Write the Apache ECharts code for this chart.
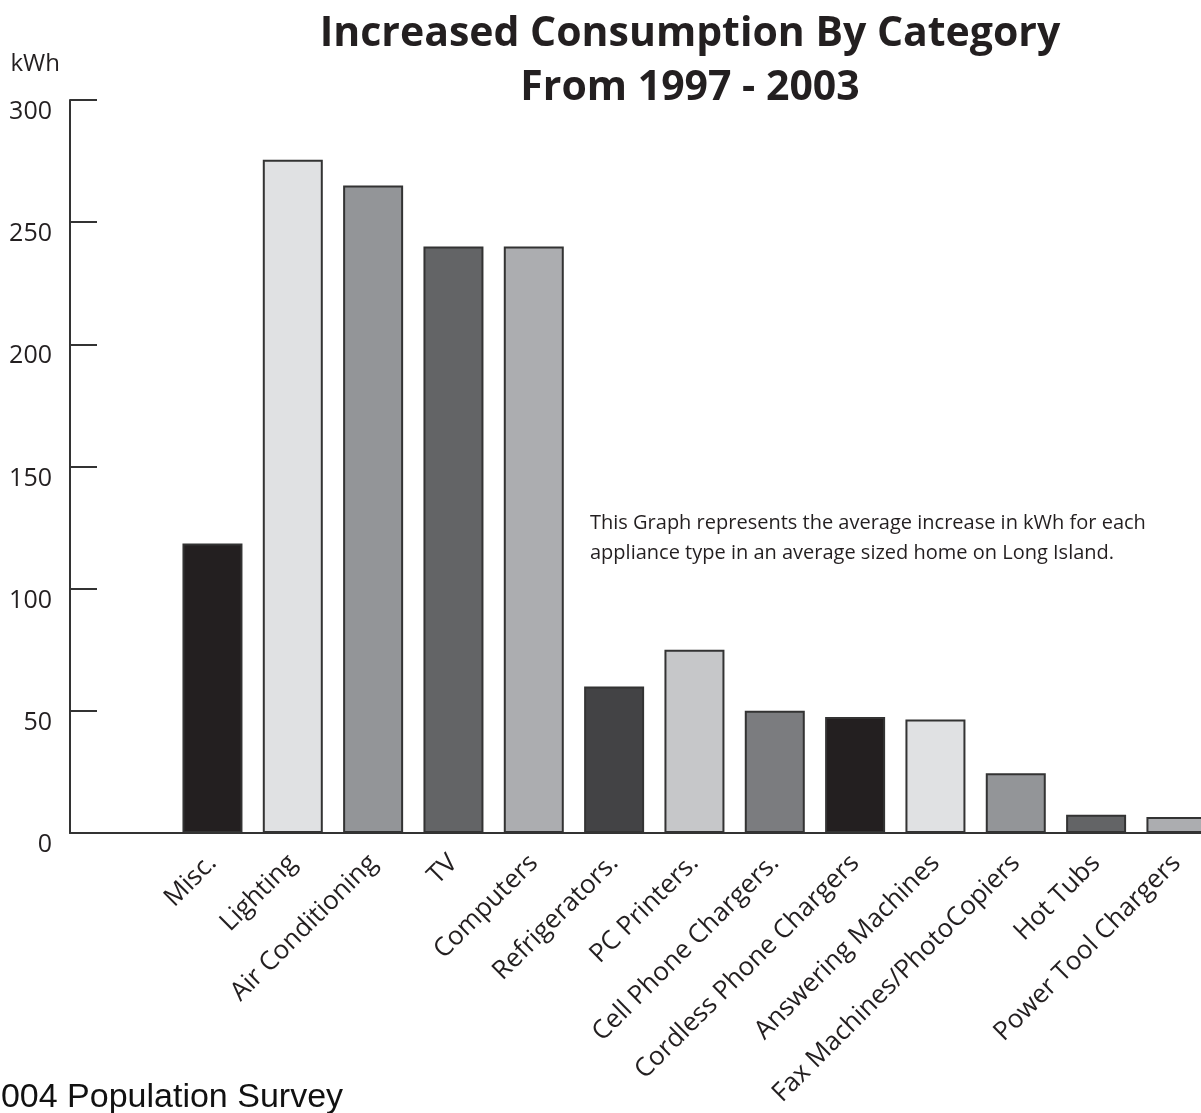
<!DOCTYPE html>
<html>
<head>
<meta charset="utf-8">
<title>Increased Consumption By Category</title>
<script src="https://cdn.jsdelivr.net/npm/echarts@6/dist/echarts.min.js"></script>
<style>
  html, body { margin: 0; padding: 0; background: #ffffff; }
  #chart { width: 1201px; height: 1113px; }
</style>
</head>
<body>
<div id="chart"></div>
<script>
// Appliance categories and their average increase in kWh, 1997 - 2003
const categories = [
  'Misc.', 'Lighting', 'Air Conditioning', 'TV', 'Computers', 'Refrigerators.',
  'PC Printers.', 'Cell Phone Chargers.', 'Cordless Phone Chargers',
  'Answering Machines', 'Fax Machines/PhotoCopiers', 'Hot Tubs', 'Power Tool Chargers'
];
const kwhIncrease = [118.5, 275.5, 265, 240, 240, 60, 75, 50, 47.5, 46.5, 24.5, 7.5, 6.5];
const barShades = [
  '#231f20', '#e0e1e3', '#939598', '#636466', '#acadb0', '#434345',
  '#c6c7c9', '#7b7c7f', '#231f20', '#e0e1e3', '#939598', '#636466', '#acadb0'
];
const yMin = 0, yMax = 300, yStep = 50;

const titleText = 'Increased Consumption By Category\nFrom 1997 - 2003';
const noteText = 'This Graph represents the average increase in kWh for each\nappliance type in an average sized home on Long Island.';
const sourceText = '2004 Population Survey';

const ink = '#333333';
const sansFont = '"Open Sans", "Noto Sans", sans-serif';

const chart = echarts.init(document.getElementById('chart'), null, { renderer: 'canvas' });

chart.setOption({
  animation: false,
  backgroundColor: '#ffffff',
  title: {
    text: titleText,
    left: 685,
    top: 2,
    textAlign: 'center',
    textStyle: {
      fontFamily: sansFont,
      fontWeight: 'bold',
      fontSize: 41,
      lineHeight: 54,
      color: '#231f20'
    }
  },
  grid: [
    // frame grid: carries the value axis and the baseline running off the right edge
    { left: 70, width: 1147, top: 100, bottom: 280, outerBoundsMode: 'none' },
    // bar grid: category bands start to the right of the value axis
    { left: 172.3, width: 1044.3, top: 100, bottom: 280, outerBoundsMode: 'none' }
  ],
  xAxis: [
    {
      gridIndex: 0, type: 'value', min: 0, max: 1,
      axisLine: { show: true, lineStyle: { color: ink, width: 2 } },
      axisTick: { show: false }, axisLabel: { show: false }, splitLine: { show: false }
    },
    {
      gridIndex: 1, type: 'category', data: categories,
      axisLine: { show: false }, axisTick: { show: false },
      axisLabel: {
        interval: 0, rotate: 45, margin: 26,
        fontFamily: sansFont, fontSize: 26, color: '#231f20'
      }
    }
  ],
  yAxis: [
    {
      gridIndex: 0, type: 'value', min: yMin, max: yMax, interval: yStep,
      name: 'kWh', nameLocation: 'end', nameGap: 24,
      nameTextStyle: { fontFamily: sansFont, fontSize: 24, color: '#231f20', align: 'right', padding: [0, 10, 0, 0] },
      axisLine: { show: true, lineStyle: { color: ink, width: 2 } },
      axisTick: { show: true, inside: true, length: 27, lineStyle: { color: ink, width: 2 } },
      axisLabel: {
        margin: 18, fontFamily: sansFont, fontSize: 25, color: '#231f20',
        verticalAlign: 'top', lineHeight: 24
      },
      splitLine: { show: false }
    },
    {
      gridIndex: 1, type: 'value', min: yMin, max: yMax, interval: yStep, show: false
    }
  ],
  series: [
    {
      type: 'bar',
      xAxisIndex: 1, yAxisIndex: 1,
      barWidth: 60,
      data: kwhIncrease.map((v, i) => ({
        value: v,
        itemStyle: { color: barShades[i], borderColor: ink, borderWidth: 2 }
      }))
    }
  ],
  graphic: [
    {
      type: 'text', left: 590, top: 508,
      style: {
        text: noteText, fontFamily: sansFont, fontSize: 20, lineHeight: 30, fill: '#231f20'
      }
    },
    {
      type: 'text', left: -18, top: 1081,
      style: {
        text: sourceText, fontFamily: '"Liberation Sans Narrow", "Liberation Sans", Arial, sans-serif',
        fontSize: 34, fill: '#111111'
      }
    }
  ]
});
</script>
</body>
</html>
